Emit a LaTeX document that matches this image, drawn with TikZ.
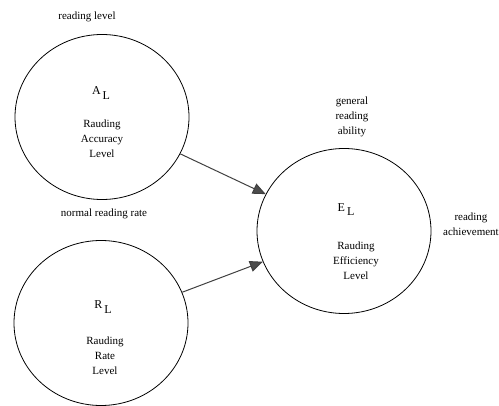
\documentclass[tikz,border=0pt]{standalone}
\usepackage{fontspec}
\setmainfont{Liberation Serif}
\usetikzlibrary{shapes.geometric,arrows.meta}
\begin{document}
\begin{tikzpicture}[x=1pt,y=-1pt,
  level/.style={draw=black,line width=0.8pt,ellipse,inner sep=0pt,minimum width=174pt,minimum height=165pt},
  lbl/.style={font=\fontsize{11}{15}\selectfont,align=center,inner sep=0pt},
  sym/.style={font=\fontsize{12}{14}\selectfont,inner sep=0pt},
  link/.style={draw=black!75,line width=1pt,-{Triangle[length=13pt,width=11pt,fill=black!70]}}]
\useasboundingbox (0,0) rectangle (499,406);
% the three levels
\node[level] (A) at (102,117) {};
\node[level] (R) at (101,323) {};
\node[level] (E) at (344,231) {};
% symbols
\node[sym] (asym) at (101,93) {A\,\raisebox{-5pt}{L}};
\node[sym] (rsym) at (103,307) {R\,\raisebox{-5pt}{L}};
\node[sym] (esym) at (346,210) {E\,\raisebox{-4pt}{L}};
% names inside the circles
\node[lbl] (aname) at (102,139) {Rauding\\Accuracy\\Level};
\node[lbl] (rname) at (105,356) {Rauding\\Rate\\Level};
\node[lbl] (ename) at (356,261) {Rauding\\Efficiency\\Level};
% outside labels
\node[lbl] (alab) at (87,17) {reading level};
\node[lbl] (rlab) at (104,214) {normal reading rate};
\node[lbl] (elab) at (352,117) {general\\reading\\ability};
\node[lbl,anchor=west] (ach) at (443,224) {reading\\achievement};
% connectors
\draw[link] (A) -- (E);
\draw[link] (R) -- (E);
\end{tikzpicture}
\end{document}
